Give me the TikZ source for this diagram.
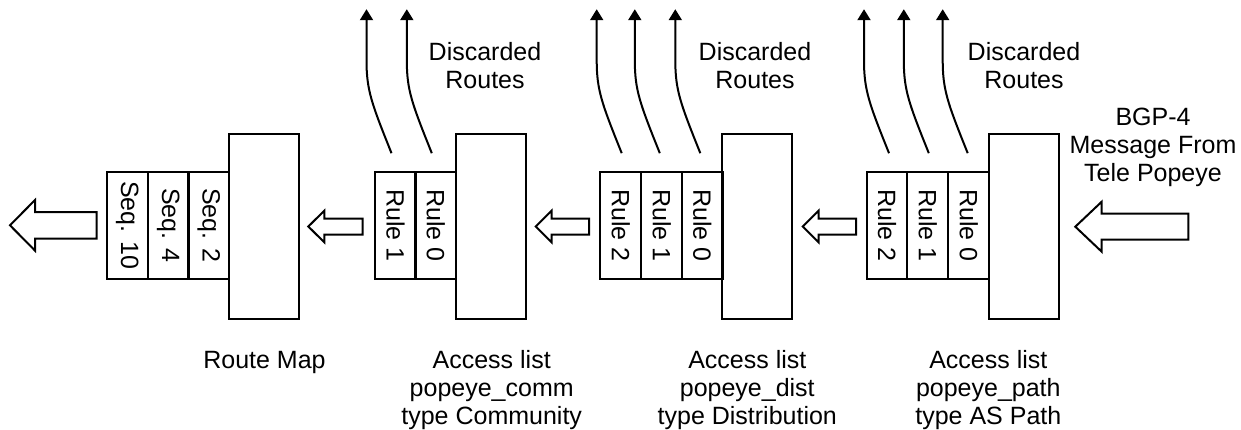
\documentclass[tikz,border=0pt]{standalone}
\usepackage{fontspec}
\setmainfont{Liberation Sans}
\usetikzlibrary{arrows.meta,calc}
\begin{document}
\begin{tikzpicture}[x=0.5pt,y=-0.5pt,line width=1pt,
  every node/.style={font=\fontsize{12.5}{14}\selectfont},
  tallbox/.style={draw,rectangle,minimum width=35pt,minimum height=92.2pt,inner sep=0pt,outer sep=0pt},
  rulebox/.style={draw,rectangle,minimum width=20.4pt,minimum height=53.8pt,inner sep=0pt,outer sep=0pt},
  lbl/.style={align=center,inner sep=0pt},
  disc/.style={-{Triangle[width=6.5pt,length=5.5pt]},line width=1pt},
  blk/.style={draw,line width=1pt,line join=miter}]
\useasboundingbox (0,0) rectangle (1241,429);
% Route map
\node[tallbox] (rm) at (263.7,226.4) {};
\node[rulebox] (s10) at (127.2,225.5) {\rotatebox{-90}{Seq. 10}};
\node[rulebox] (s4) at (168.2,225.5) {\rotatebox{-90}{Seq. 4}};
\node[rulebox] (s2) at (208.7,225.5) {\rotatebox{-90}{Seq. 2}};
% Community
\node[tallbox] (cm) at (490.85,226.4) {};
\node[rulebox] (c1) at (395.5,225.5) {\rotatebox{-90}{Rule 1}};
\node[rulebox] (c0) at (435.8,225.5) {\rotatebox{-90}{Rule 0}};
% Distribution
\node[tallbox] (ds) at (757.3,226.4) {};
\node[rulebox] (d2) at (620.7,225.5) {\rotatebox{-90}{Rule 2}};
\node[rulebox] (d1) at (661.8,225.5) {\rotatebox{-90}{Rule 1}};
\node[rulebox] (d0) at (702.3,225.5) {\rotatebox{-90}{Rule 0}};
% AS path
\node[tallbox] (pt) at (1024,226.4) {};
\node[rulebox] (p2) at (887,225.5) {\rotatebox{-90}{Rule 2}};
\node[rulebox] (p1) at (927.8,225.5) {\rotatebox{-90}{Rule 1}};
\node[rulebox] (p0) at (968.7,225.5) {\rotatebox{-90}{Rule 0}};
% discarded routes arrows
\foreach \n/\o in {c1/-4,c0/-4,d2/1,d1/-2,d0/-2,p2/2,p1/1,p0/-1} {
  \coordinate (\n-s) at ($(\n.north)+(\o,-18.5)$);
  \coordinate (\n-t) at ($(\n-s)+(-25,-144)$);
  \draw[disc] (\n-s) .. controls ($(\n-s)+(-20,-50)$) and ($(\n-s)+(-25,-63)$) .. ($(\n-s)+(-25,-93)$) -- (\n-t);
}
% hollow arrows
\draw[blk] (10,225.3) -- (35,200) -- (35,212) -- (96.7,212) -- (96.7,238.6) -- (35,238.6) -- (35,250.6) -- cycle;
\draw[blk] (308.3,226.5) -- (324.3,210.7) -- (324.3,218.5) -- (362.7,218.5) -- (362.7,234.5) -- (324.3,234.5) -- (324.3,242.3) -- cycle;
\draw[blk] (535.7,226.5) -- (551.5,210.7) -- (551.5,218.5) -- (589,218.5) -- (589,234.5) -- (551.5,234.5) -- (551.5,242.3) -- cycle;
\draw[blk] (802.7,226.5) -- (818.5,210.7) -- (818.5,218.5) -- (856,218.5) -- (856,234.5) -- (818.5,234.5) -- (818.5,242.3) -- cycle;
\draw[blk] (1075.3,226.7) -- (1101.7,201.7) -- (1101.7,213.5) -- (1188.3,213.5) -- (1188.3,239.5) -- (1101.7,239.5) -- (1101.7,251.7) -- cycle;
% labels
\node[lbl] (dr1) at (485,66) {Discarded\\Routes};
\node[lbl] (dr2) at (755,66) {Discarded\\Routes};
\node[lbl] (dr3) at (1024,66) {Discarded\\Routes};
\node[lbl] (bgp) at (1153,147) {BGP-4\\Message From\\Tele Popeye};
\node[lbl] (lrm) at (264.5,362) {Route Map};
\node[lbl] (lcm) at (491.7,390) {Access list\\popeye\_comm\\type Community};
\node[lbl] (lds) at (747.3,390) {Access list\\popeye\_dist\\type Distribution};
\node[lbl] (lpt) at (988.3,390) {Access list\\popeye\_path\\type AS Path};
\end{tikzpicture}
\end{document}
